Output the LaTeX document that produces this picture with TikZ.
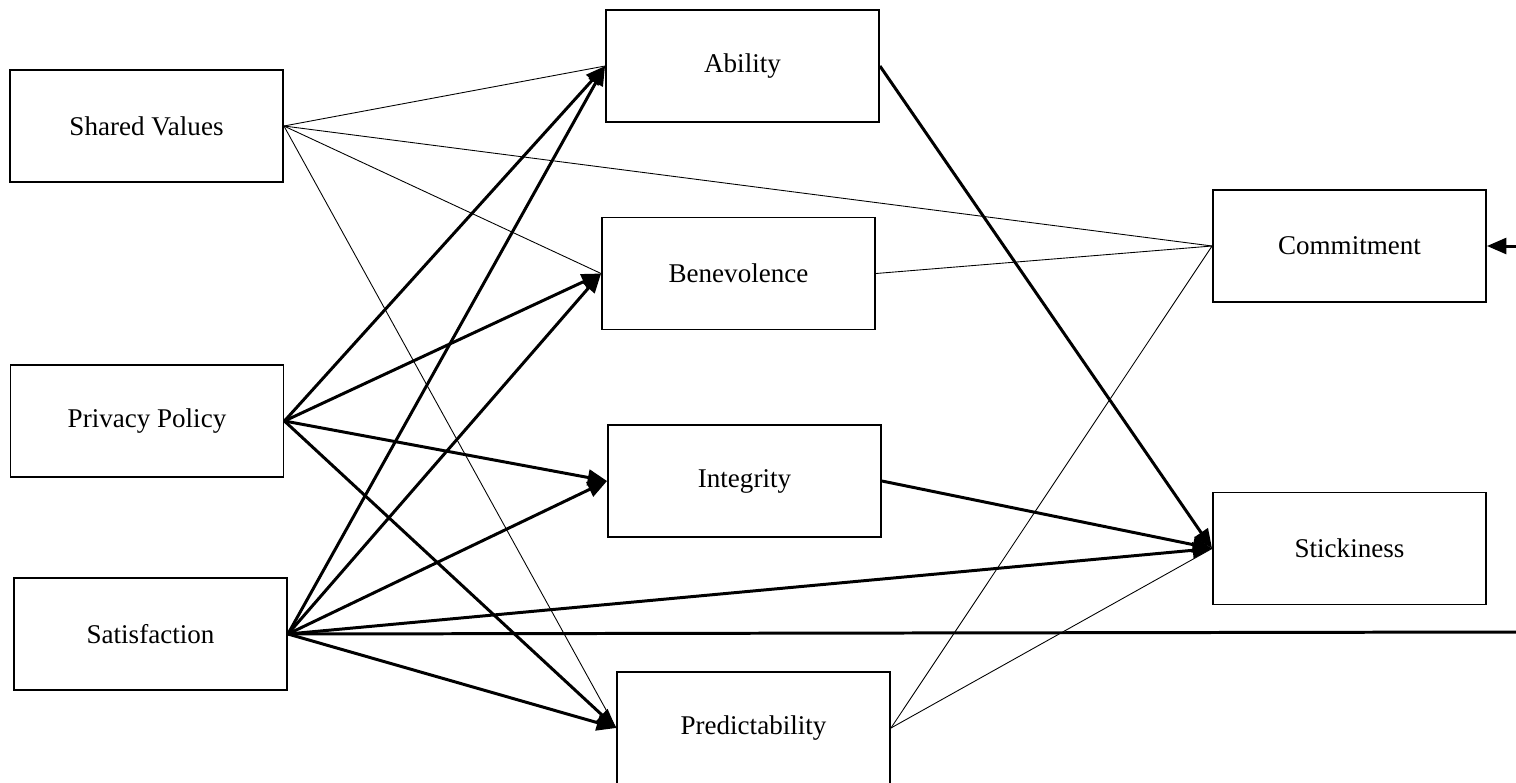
\documentclass[tikz,border=0pt]{standalone}
\usepackage{fontspec}
\setmainfont{Liberation Serif}
\usetikzlibrary{arrows.meta}
\begin{document}
\begin{tikzpicture}[x=0.02cm,y=-0.02cm,
  box/.style={draw, line width=1.1pt, minimum width=5.46cm, minimum height=2.24cm,
    inner sep=0pt, font=\fontsize{15.4pt}{18pt}\selectfont},
  strong/.style={line width=1.7pt, -{Triangle[length=11pt,width=9pt]}},
  strongline/.style={line width=1.7pt},
  weak/.style={line width=0.5pt}]
\useasboundingbox (0,0) rectangle (1516,782);
% constructs
\node[box] (sv)  at (146.5,126) {Shared Values};
\node[box] (pp)  at (147,421)   {Privacy Policy};
\node[box] (sat) at (150.5,634) {Satisfaction};
\node[box] (ab)  at (742.5,66)  {Ability};
\node[box] (be)  at (738.5,273.5) {Benevolence};
\node[box] (in)  at (744.5,481) {Integrity};
\node[box] (pr)  at (753.5,728) {Predictability};
\node[box] (co)  at (1349.5,246) {Commitment};
\node[box] (st)  at (1349.5,548.5) {Stickiness};
% loose ends at the right margin
\coordinate (coIn)  at (1516,246);
\coordinate (satOut) at (1516,632);
% weak paths
\draw[weak] (sv.east) -- (ab.west);
\draw[weak] (sv.east) -- (be.west);
\draw[weak] (sv.east) -- (co.west);
\draw[weak] (sv.east) -- (pr.west);
\draw[weak] (be.east) -- (co.west);
\draw[weak] (pr.east) -- (co.west);
\draw[weak] (pr.east) -- (st.west);
% strong paths
\draw[strong] (pp.east) -- (ab.west);
\draw[strong] (pp.east) -- (be.west);
\draw[strong] (pp.east) -- (in.west);
\draw[strong] (pp.east) -- (pr.west);
\draw[strong] (sat.east) -- (ab.west);
\draw[strong] (sat.east) -- (be.west);
\draw[strong] (sat.east) -- (in.west);
\draw[strong] (sat.east) -- (pr.west);
\draw[strong] (sat.east) -- (st.west);
\draw[strongline] (sat.east) -- (satOut);
\draw[strong] (ab.east) -- (st.west);
\draw[strong] (in.east) -- (st.west);
\draw[strong] (coIn) -- (co.east);
\end{tikzpicture}
\end{document}
